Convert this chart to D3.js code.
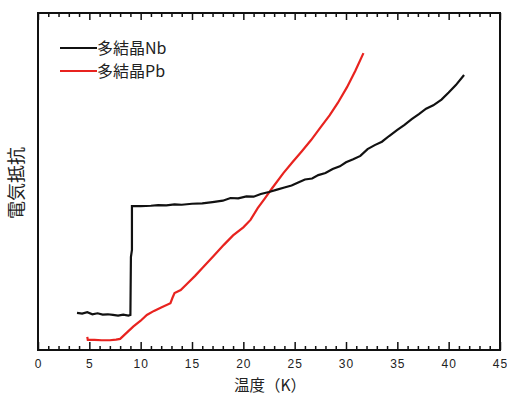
<!DOCTYPE html>
<html>
<head>
<meta charset="utf-8">
<script src="https://cdnjs.cloudflare.com/ajax/libs/d3/7.8.5/d3.min.js"></script>
<style>
  body { margin:0; background:#fff; }
  svg { display:block; }
  .frame { fill:none; stroke:#111; stroke-width:2; }
  .tick line { stroke:#111; stroke-width:1.5; }
  .lbl { font-family:"Liberation Sans", Arial, sans-serif; font-size:12px; fill:#222; letter-spacing:1px; }
  .jp { font-family:"Noto Sans CJK JP", sans-serif; fill:#222; }
</style>
</head>
<body>
<div id="container"></div>
<script>
// data (resistance in arbitrary units)
var nbTemp = [3.8,4.3,4.8,5.3,5.8,6.3,6.8,7.3,7.8,8.3,8.8,9.0,9.05,9.15,9.15,10,11,11.7,12.5,13.3,14,15,16,17,18,18.75,19.5,20.3,21,21.7,22.5,23.2,24,24.7,25.4,26,26.7,27.3,28,28.7,29.4,30,30.7,31.4,32.1,32.8,33.5,34.2,35,35.7,36.4,37.1,37.8,38.5,39.3,40,40.7,41.5];
var nbRes  = [11.0,10.8,11.2,10.6,10.9,10.5,10.6,10.4,10.2,10.5,10.2,10.4,27.6,29.7,42.7,42.7,42.8,43.0,42.9,43.2,43.1,43.4,43.5,43.9,44.3,45.1,45.0,45.6,45.5,46.3,46.9,47.5,48.2,48.8,49.8,50.6,50.9,51.9,52.5,53.7,54.5,55.7,56.6,57.6,59.6,60.8,61.8,63.5,65.3,66.8,68.5,70.0,71.6,72.6,74.3,76.4,78.6,81.6];

var pbTemp = [4.8,4.85,5.5,6.2,7.0,7.6,8.0,8.7,9.3,10,10.6,11.3,12,12.9,13.1,13.3,13.9,14.5,15.3,16.1,17.1,18.1,19,20,20.7,21.4,22.1,22.8,23.9,24.8,25.7,26.6,27.5,28.4,29.2,30.1,30.9,31.7];
var pbRes  = [3.9,3.0,3.0,2.9,2.9,3.1,3.3,5.3,7.0,8.7,10.4,11.6,12.6,13.9,15.5,16.9,17.8,19.6,22.0,24.6,27.9,31.2,34.0,36.4,38.6,42.1,45.0,48.0,52.5,55.8,59.0,62.3,66.0,69.6,73.3,78.0,82.8,88.1];

var xTicks = [0,5,10,15,20,25,30,35,40,45];
var seriesNames = ["多結晶Nb","多結晶Pb"];
var seriesColors = ["#111111","#e8231f"];

var W = 507, H = 396;
var L = 38, R = 500, T = 13, B = 350;

var svg = d3.select("#container").append("svg").attr("width", W).attr("height", H);

var x = d3.scaleLinear().domain([0,45]).range([L,R]);
var y = d3.scaleLinear().domain([0,100]).range([B,T]);

// minor ticks every 1 K, major every 5 K, pointing inward
var minor = d3.range(0,46).filter(function(d){ return d%5 !== 0; });

svg.append("g").attr("class","tick")
  .attr("transform","translate(0,"+B+")")
  .call(d3.axisTop(x).tickValues(minor).tickSize(4).tickFormat(""))
  .call(function(g){ g.select(".domain").remove(); });
svg.append("g").attr("class","tick")
  .attr("transform","translate(0,"+B+")")
  .call(d3.axisTop(x).tickValues(xTicks).tickSize(8).tickFormat(""))
  .call(function(g){ g.select(".domain").remove(); });
svg.append("g").attr("class","tick")
  .attr("transform","translate(0,"+T+")")
  .call(d3.axisBottom(x).tickValues(minor).tickSize(4).tickFormat(""))
  .call(function(g){ g.select(".domain").remove(); });
svg.append("g").attr("class","tick")
  .attr("transform","translate(0,"+T+")")
  .call(d3.axisBottom(x).tickValues(xTicks).tickSize(7).tickFormat(""))
  .call(function(g){ g.select(".domain").remove(); });

svg.selectAll(".tick line").attr("stroke","#111").attr("stroke-width",1.5);

svg.selectAll("text.lbl").data(xTicks).enter().append("text")
  .attr("class","lbl")
  .attr("x", function(d){ return x(d) + 0.5; })
  .attr("y", B+18)
  .attr("text-anchor","middle")
  .text(function(d){ return d; });

svg.append("rect").attr("class","frame")
  .attr("x",L).attr("y",T).attr("width",R-L).attr("height",B-T);

var line = d3.line()
  .x(function(d){ return x(d[0]); })
  .y(function(d){ return y(d[1]); });

var nb = nbTemp.map(function(t,i){ return [t, nbRes[i]]; });
var pb = pbTemp.map(function(t,i){ return [t, pbRes[i]]; });

svg.append("path").datum(pb)
  .attr("d", line).attr("fill","none")
  .attr("stroke", seriesColors[1]).attr("stroke-width",2.2);
svg.append("path").datum(nb)
  .attr("d", line).attr("fill","none")
  .attr("stroke", seriesColors[0]).attr("stroke-width",2.2);

// legend
var leg = svg.append("g");
seriesNames.forEach(function(n,i){
  var ly = 48 + i*23;
  leg.append("line").attr("x1",60).attr("x2",97).attr("y1",ly).attr("y2",ly)
    .attr("stroke",seriesColors[i]).attr("stroke-width",2.2);
  leg.append("text").attr("class","jp").attr("x",97).attr("y",ly+6)
    .style("font-size","16px").text(n);
});

// axis titles
svg.append("text").attr("class","jp")
  .attr("x", 270).attr("y", 391)
  .attr("text-anchor","middle").style("font-size","15.5px")
  .text("温度（K）");

svg.append("text").attr("class","jp")
  .attr("transform","translate(23,183) rotate(-90)")
  .attr("text-anchor","middle").style("font-size","18px")
  .text("電気抵抗");
</script>
</body>
</html>
